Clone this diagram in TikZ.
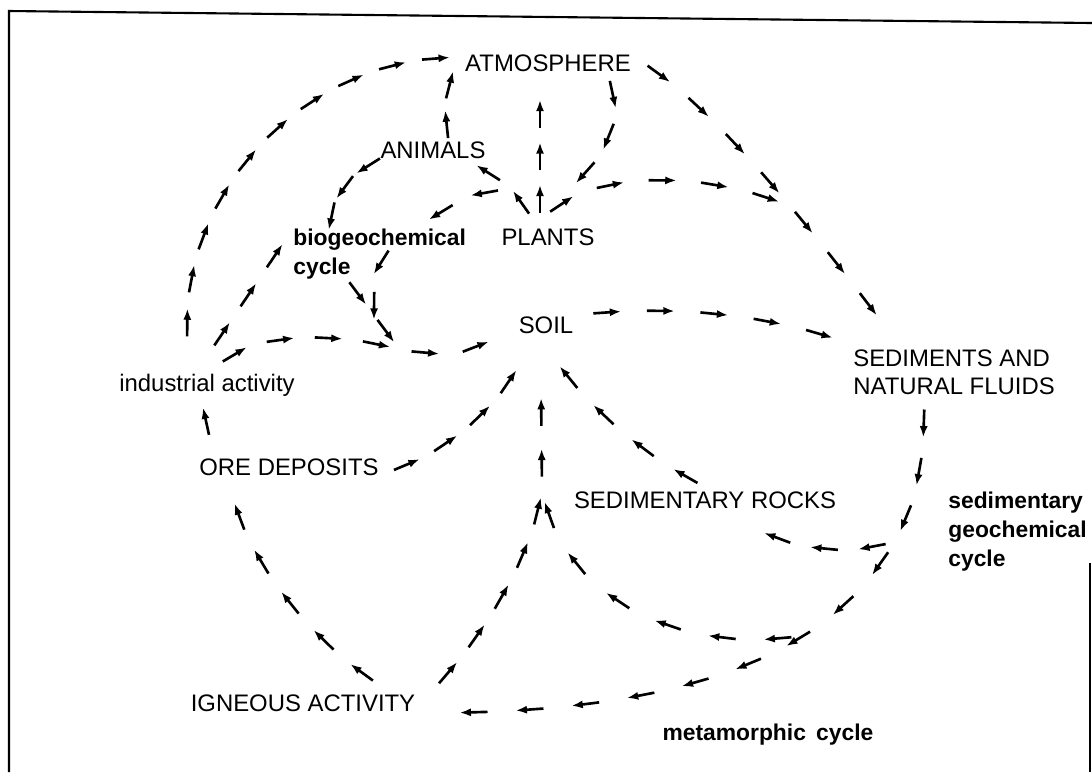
\documentclass[tikz,border=0pt]{standalone}
\usepackage{fontspec}
\setmainfont{Liberation Sans}
\usetikzlibrary{arrows.meta,decorations.markings}
\newcommand{\lblsize}{\fontsize{13.6}{16.3}\selectfont}
\newcommand{\cycsize}{\fontsize{13}{16.3}\selectfont\bfseries}
\tikzset{
  lbl/.style={inner sep=0pt, font=\lblsize},
  cyclbl/.style={inner sep=0pt, font=\cycsize},
  chaintip/.style={-{Latex[length=6.5pt,width=4.6pt]}, line width=1.5pt},
  arrowchain/.style={postaction={decorate, decoration={markings,
      mark=between positions 0.5/#1 and 1 step 1/#1 with {\draw[chaintip] (-14,0) -- (14,0);}}}},
  frameline/.style={line width=1.2pt}
}

\begin{document}
\begin{tikzpicture}[x=0.02cm, y=-0.02cm]
  \useasboundingbox (0,0) rectangle (1092,772);
  \draw[frameline] (1092,23) -- (9,11) -- (9,772);
  \draw[frameline] (1090,563) -- (1090,772);

  \node[lbl, anchor=base] (atm) at (548,71) {ATMOSPHERE};
  \node[lbl, anchor=base] (ani) at (433,158) {ANIMALS};
  \node[lbl, anchor=base] (pla) at (548,245) {PLANTS};
  \node[lbl, anchor=base] (soil) at (546,333) {SOIL};
  \node[lbl, anchor=base] (ind) at (207,391) {industrial activity};
  \node[lbl, anchor=base] (ore) at (289,475) {ORE DEPOSITS};
  \node[lbl, anchor=base] (rocks) at (705,508) {SEDIMENTARY ROCKS};
  \node[lbl, anchor=base] (ign) at (303,711) {IGNEOUS ACTIVITY};
  \node[lbl, align=left, anchor=north west] (sed) at (853,349) {SEDIMENTS AND\\NATURAL FLUIDS};
  \node[cyclbl, align=left, anchor=north west] (bio) at (293,229) {biogeochemical\\cycle};
  \node[cyclbl, align=left, anchor=north west] (sgc) at (948,492) {sedimentary\\geochemical\\cycle};
  \node[cyclbl, anchor=base] (met) at (768,740) {metamorphic\hspace{0.45em}cycle};

  \coordinate (m0) at (374,328);
  \coordinate (m1) at (400,350);
  \coordinate (m3) at (542,488);
  \coordinate (b1) at (895,540);

  \path[arrowchain=10] ([shift={(-19,-29)}]ind.north) .. controls (176,190) and (310,56) .. ([shift={(-7,-5)}]atm.west);
  \path[arrowchain=3] ([shift={(2,-20)}]ind.north) -- ([shift={(-5,7)}]bio.north west);
  \path[arrowchain=4] ([shift={(10,-3)}]ind.north) .. controls (245,330) and (340,332) .. (m1);
  \path[arrowchain=2] (m1) .. controls (455,356) .. ([shift={(-19,12)}]soil.west);
  \path[arrowchain=2] ([shift={(-36,-5)}]bio.south) -- (m1);
  \path[arrowchain=2] ([shift={(-40,-38)}]pla.north) .. controls (470,194) .. ([shift={(-46,-4)}]bio.north east);
  \path[arrowchain=2] ([shift={(16,-34)}]bio.south) .. controls (374,268) .. (m0);
  \path[arrowchain=3] ([shift={(2,0)}]ani.south west) .. controls (355,170) and (330,195) .. ([shift={(37,3)}]bio.north west);
  \path[arrowchain=2] ([shift={(16,3)}]ani.north) .. controls (444,104) .. ([shift={(-10,-6)}]atm.south west);
  \path[arrowchain=2] ([shift={(-17,-6)}]pla.north) .. controls (522,195) and (500,178) .. ([shift={(-17,3)}]ani.south east);
  \path[arrowchain=3] ([shift={(-8,-8)}]pla.north) -- ([shift={(-8,21)}]atm.south);
  \path[arrowchain=3] ([shift={(-26,3)}]atm.south east) .. controls (625,110) and (612,150) .. ([shift={(22,-40)}]pla.north);
  \path[arrowchain=7] ([shift={(6,-3)}]atm.east) .. controls (700,95) and (790,200) .. ([shift={(31,-24)}]sed.north west) coordinate[pos=0.66] (m2);
  \path[arrowchain=5] ([shift={(-5,-6)}]pla.north) .. controls (575,175) and (690,165) .. (m2);
  \path[arrowchain=5] ([shift={(7,-10)}]soil.east) .. controls (680,304) and (770,316) .. ([shift={(-8,-7)}]sed.north west);
  \path[arrowchain=1] ([shift={(12,-14)}]ore.north west) -- ([shift={(-6,2)}]ind.south);
  \path[arrowchain=5] ([shift={(-33,-8)}]ign.north east) .. controls (330,656) and (252,575) .. ([shift={(33,17)}]ore.south west);
  \path[arrowchain=4] ([shift={(7,5)}]ore.east) .. controls (430,460) and (490,420) .. ([shift={(-26,29)}]soil.south);
  \path[arrowchain=5] ([shift={(17,-4)}]ign.north east) .. controls (480,640) and (532,560) .. (m3);
  \path[arrowchain=2] (m3) -- ([shift={(-5,53)}]soil.south);
  \path[arrowchain=3] ([shift={(71,4)}]sed.south west) .. controls (925,470) and (912,510) .. (b1);
  \path[arrowchain=3] (b1) .. controls (850,558) and (790,548) .. ([shift={(-81,19)}]rocks.south east);
  \path[arrowchain=9] (b1) .. controls (850,620) and (750,710) .. ([shift={(30,10)}]ign.east) coordinate[pos=0.4] (b2);
  \path[arrowchain=6] (b2) .. controls (700,655) and (565,610) .. (m3);
  \path[arrowchain=4] ([shift={(3,-3)}]rocks.north) .. controls (650,460) and (590,410) .. ([shift={(7,23)}]soil.south);
\end{tikzpicture}
\end{document}
